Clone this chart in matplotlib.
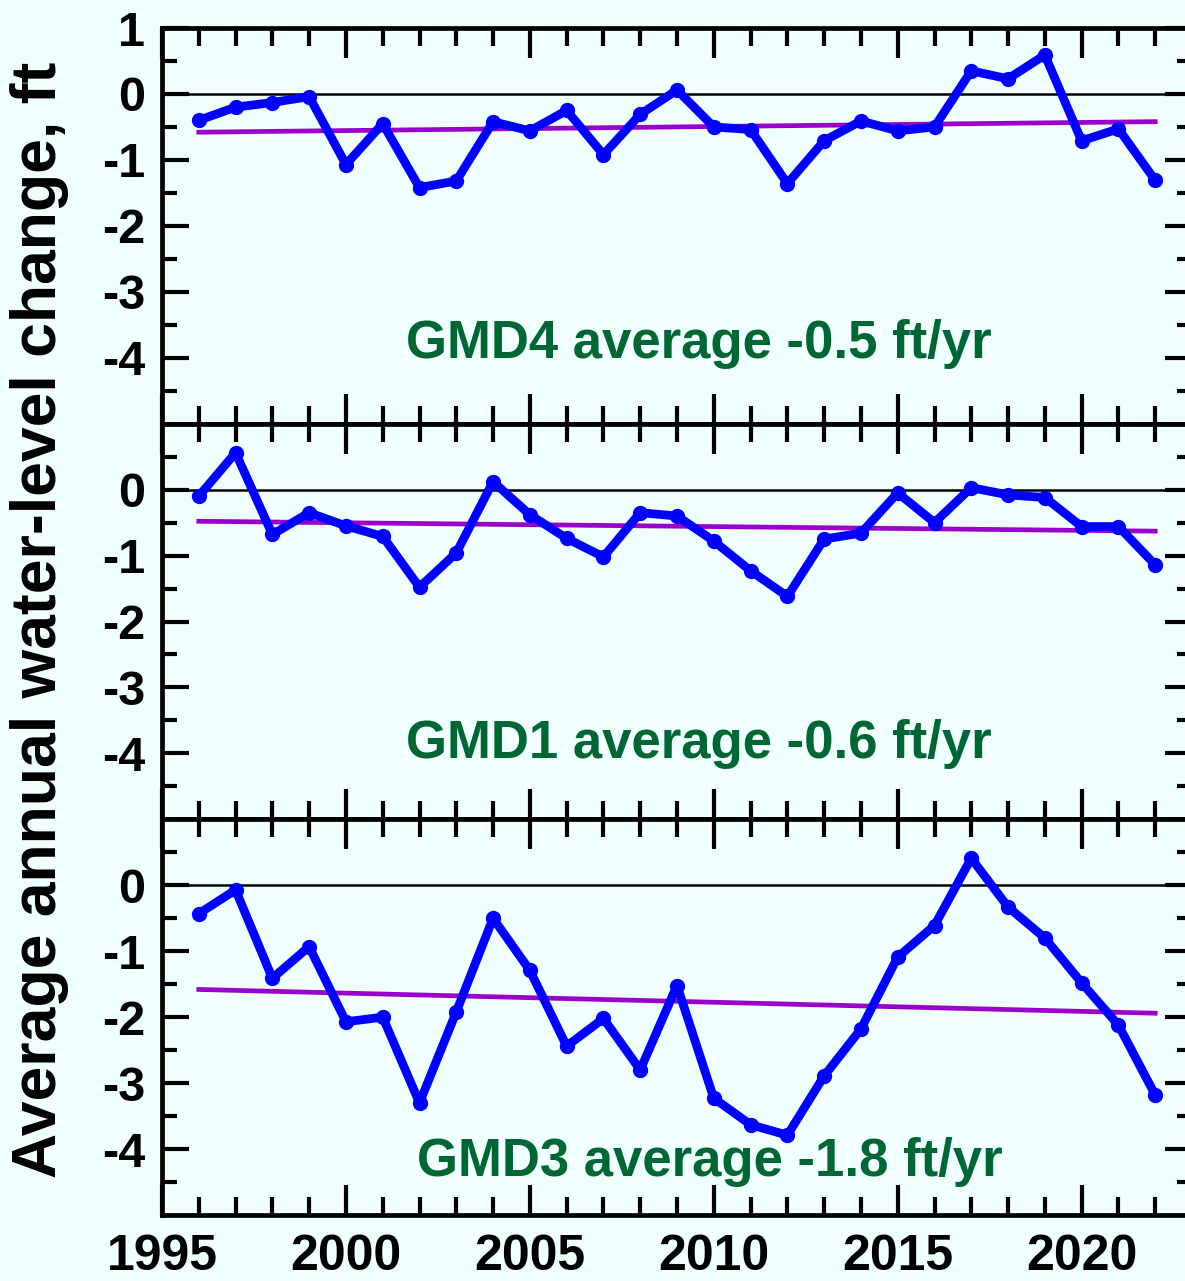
import matplotlib
matplotlib.use("Agg")
import matplotlib.pyplot as plt
from matplotlib.ticker import MultipleLocator, FixedLocator

plt.rcParams['font.family'] = ['Liberation Sans', 'DejaVu Sans']
plt.rcParams['font.weight'] = 'bold'

years = list(range(1996, 2023))

gmd4 = [-0.40, -0.20, -0.13, -0.04, -1.07, -0.45, -1.42, -1.32, -0.42, -0.56,
        -0.25, -0.92, -0.31, 0.06, -0.50, -0.54, -1.36, -0.71, -0.41, -0.56,
        -0.50, 0.35, 0.23, 0.59, -0.71, -0.53, -1.31]
gmd1 = [-0.10, 0.56, -0.68, -0.35, -0.55, -0.71, -1.48, -0.96, 0.12, -0.38,
        -0.74, -1.02, -0.35, -0.40, -0.78, -1.23, -1.62, -0.75, -0.66, -0.05,
        -0.50, 0.03, -0.08, -0.12, -0.56, -0.56, -1.14]
gmd3 = [-0.43, -0.07, -1.41, -0.93, -2.07, -2.00, -3.30, -1.92, -0.50, -1.29,
        -2.44, -2.02, -2.80, -1.52, -3.23, -3.63, -3.79, -2.89, -2.18, -1.09,
        -0.61, 0.41, -0.33, -0.80, -1.48, -2.12, -3.18]

trend_years = [1996, 2022]
trend4 = [-0.58, -0.42]
trend1 = [-0.48, -0.63]
trend3 = [-1.58, -1.94]

labels = ["GMD4 average -0.5 ft/yr", "GMD1 average -0.6 ft/yr", "GMD3 average -1.8 ft/yr"]
label_pos = [(2009.6, -3.79), (2009.6, -3.86), (2009.9, -4.2)]

xtick_major = [1995, 2000, 2005, 2010, 2015, 2020]
ylabel = "Average annual water-level change, ft"

bg = '#F0FFFF'
fig = plt.figure(figsize=(11.85, 12.81), dpi=100, facecolor=bg)

left = 162 / 1185
width = (1192 - 162) / 1185
top_px, bot_px = 28, 1215
h = (bot_px - top_px) / 3 / 1281

series = [gmd4, gmd1, gmd3]
trends = [trend4, trend1, trend3]
for i in range(3):
    y0 = 1 - (top_px + (i + 1) * (bot_px - top_px) / 3) / 1281
    ax = fig.add_axes([left, y0, width, h], facecolor=bg)
    ax.set_xlim(1995, 2023)
    ax.set_ylim(-5, 1)
    ax.axhline(0, color='black', lw=1.8, zorder=1)
    ax.plot(trend_years, trends[i], color='#9900CC', lw=3.4, zorder=2)
    ax.plot(years, series[i], color='#0000FF', lw=6.3, marker='o', ms=10,
            zorder=3, solid_joinstyle='round', clip_on=False)
    ax.text(label_pos[i][0], label_pos[i][1], labels[i], color='#006633',
            fontsize=38, fontweight='bold', ha='center', va='center')
    for s in ax.spines.values():
        s.set_linewidth(3.4)
    ax.xaxis.set_major_locator(FixedLocator(xtick_major))
    ax.xaxis.set_minor_locator(MultipleLocator(1))
    if i == 0:
        ax.yaxis.set_major_locator(FixedLocator([-4, -3, -2, -1, 0, 1]))
    else:
        ax.yaxis.set_major_locator(FixedLocator([-4, -3, -2, -1, 0]))
    ax.yaxis.set_minor_locator(FixedLocator([-4.5, -3.5, -2.5, -1.5, -0.5, 0.5]))
    ax.tick_params(axis='x', which='both', direction='in', top=True, bottom=True,
                   width=3, labelsize=36, pad=14)
    ax.tick_params(axis='x', which='major', length=21.5)
    ax.tick_params(axis='x', which='minor', length=13)
    ax.tick_params(axis='y', which='both', direction='in', left=True, right=True,
                   width=3, labelsize=35, pad=12)
    ax.tick_params(axis='y', which='major', length=19.5)
    ax.tick_params(axis='y', which='minor', length=11)
    ax.set_yticklabels([str(int(v)) for v in ax.get_yticks()])
    if i < 2:
        ax.tick_params(axis='x', labelbottom=False)
    else:
        ax.set_xticklabels([str(v) for v in xtick_major])

fig.text(40 / 1185, 1 - 620 / 1281, ylabel, rotation=90, ha='center', va='center',
         fontsize=45, fontweight='bold')

fig.savefig('out.png', dpi=100, facecolor=bg)
